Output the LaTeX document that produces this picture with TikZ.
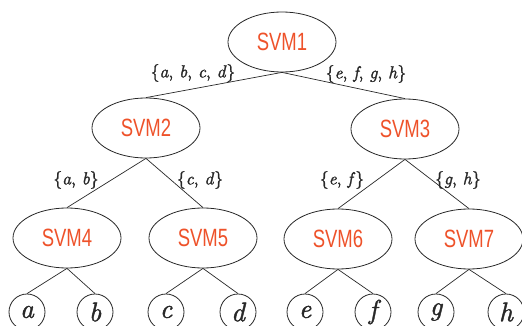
\documentclass[tikz,border=0pt]{standalone}
\usepackage{fontspec}
\newfontfamily\svmfont{Liberation Sans}
\newfontfamily\lblfont{lmroman10-regular}[Extension=.otf, ItalicFont=lmroman10-italic, FakeBold=1.5]
\usetikzlibrary{shapes.geometric}
\definecolor{svmred}{RGB}{238,82,42}
\definecolor{linegray}{RGB}{40,40,40}
\newcommand{\svmtxt}[1]{\scalebox{0.74}[1]{#1}}
\tikzset{
  svm/.style={ellipse, draw=linegray, line width=0.8pt, minimum width=108pt, minimum height=60pt, inner sep=0pt,
    text=svmred, font=\svmfont\fontsize{25}{25}\selectfont},
  leaf/.style={circle, draw=linegray, line width=0.8pt, minimum size=36pt, inner sep=0pt,
    text=linegray, font=\lblfont\itshape\fontsize{27}{27}\selectfont},
  lbl/.style={inner sep=0pt, text=linegray, font=\lblfont\fontsize{17.5}{17.5}\selectfont},
  conn/.style={draw=linegray, line width=0.7pt}
}
\begin{document}
\begin{tikzpicture}[x=1pt,y=-1pt]
\useasboundingbox (0,0) rectangle (522,326);
\node[svm] (s1) at (282,42) {\svmtxt{SVM1}};
\node[svm] (s2) at (146,128) {\svmtxt{SVM2}};
\node[svm] (s3) at (405,129) {\svmtxt{SVM3}};
\node[svm] (s4) at (67,238) {\svmtxt{SVM4}};
\node[svm] (s5) at (203,238) {\svmtxt{SVM5}};
\node[svm] (s6) at (338,239) {\svmtxt{SVM6}};
\node[svm] (s7) at (469,239) {\svmtxt{SVM7}};
\node[leaf] (a) at (27,312) {a};
\node[leaf] (b) at (95,312) {b};
\node[leaf] (c) at (166,312) {c};
\node[leaf] (d) at (238,312) {d};
\node[leaf] (e) at (305,312) {e};
\node[leaf] (f) at (373,312) {f};
\node[leaf] (g) at (436,312) {g};
\node[leaf] (h) at (506,312) {h};
\node[lbl] (l1) at (193,73) {\{\textit{a}, \textit{b}, \textit{c}, \textit{d}\}};
\node[lbl] (l2) at (366,74) {\{\textit{e}, \textit{f}, \textit{g}, \textit{h}\}};
\node[lbl] (l3) at (76,180) {\{\textit{a}, \textit{b}\}};
\node[lbl] (l4) at (200,180) {\{\textit{c}, \textit{d}\}};
\node[lbl] (l5) at (342,180) {\{\textit{e}, \textit{f}\}};
\node[lbl] (l6) at (458,180) {\{\textit{g}, \textit{h}\}};
\draw[conn] (s1.south) -- (s2.north);
\draw[conn] (s1.south) -- (s3.north);
\draw[conn] (s2.south) -- (s4.north);
\draw[conn] (s2.south) -- (s5.north);
\draw[conn] (s3.south) -- (s6.north);
\draw[conn] (s3.south) -- (s7.north);
\draw[conn] (s4.south) -- (a.north);
\draw[conn] (s4.south) -- (b.north);
\draw[conn] (s5.south) -- (c.north);
\draw[conn] (s5.south) -- (d.north);
\draw[conn] (s6.south) -- (e.north);
\draw[conn] (s6.south) -- (f.north);
\draw[conn] (s7.south) -- (g.north);
\draw[conn] (s7.south) -- (h.north);
\end{tikzpicture}
\end{document}
